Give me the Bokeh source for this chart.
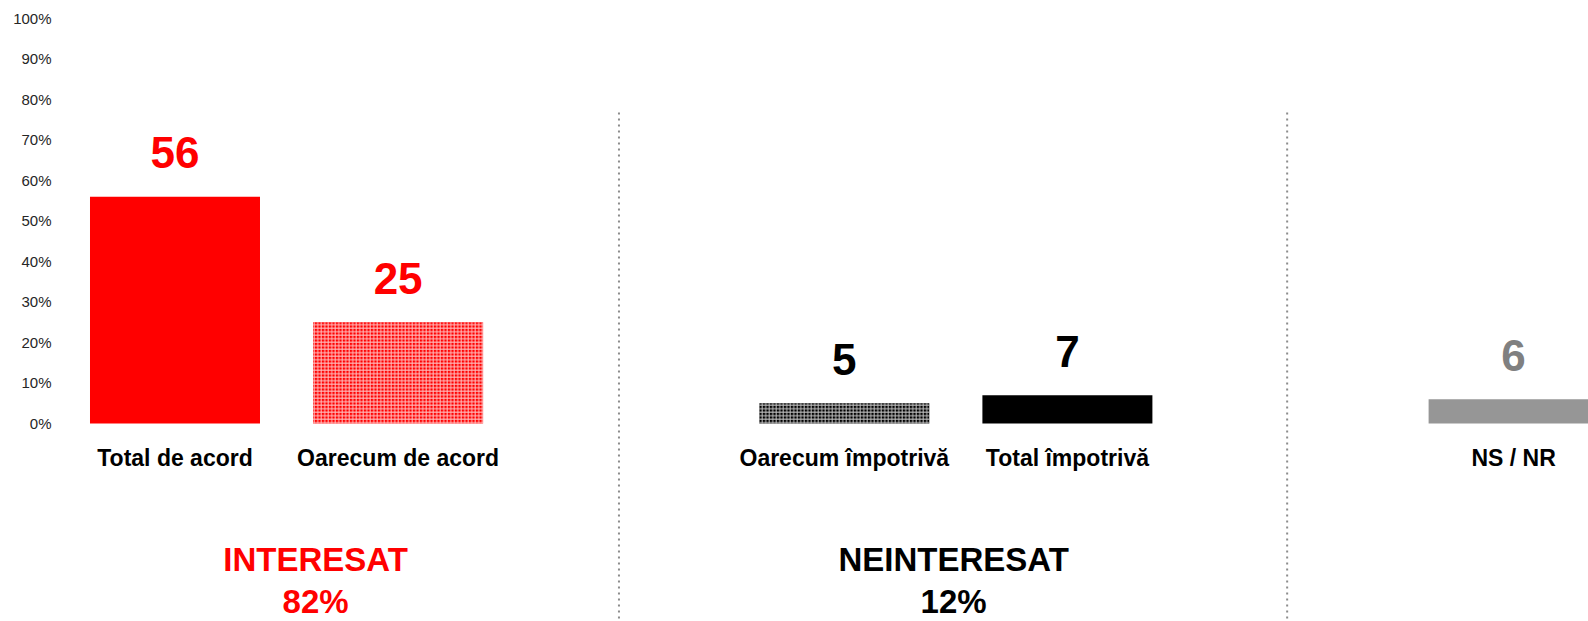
from bokeh.plotting import figure
from bokeh.models import ColumnDataSource, FixedTicker, Range1d
from bokeh.core.properties import value
from bokeh.embed import file_html
from bokeh.resources import INLINE

# ---- data ----
categories = ["Total de acord", "Oarecum de acord", "Oarecum împotrivă", "Total împotrivă", "NS / NR"]
values = [56, 25, 5, 7, 6]
bar_colors = ["#FF0000", "#FF0000", "#000000", "#000000", "#969696"]
label_colors = ["#FF0000", "#FF0000", "#000000", "#000000", "#808080"]
patterns = [" ", "+", "+", " ", " "]
groups = ["INTERESAT", "NEINTERESAT"]
group_totals = ["82%", "12%"]
group_colors = ["#FF0000", "#000000"]
y_ticks = [0, 10, 20, 30, 40, 50, 60, 70, 80, 90, 100]
y_tick_labels = ["0%", "10%", "20%", "30%", "40%", "50%", "60%", "70%", "80%", "90%", "100%"]

# ---- layout ----
slots = [0, 1, 3, 4, 6]
group_x = [0.63, 3.49]
divider_x = [1.99, 4.985]
FONT = value("Liberation Sans")
Y0, Y1 = -48.89, 104.44

p = figure(width=1588, height=621,
           x_range=Range1d(-0.5132, 6.3357), y_range=Range1d(Y0, Y1),
           output_backend="svg", toolbar_location=None, x_axis_location=None,
           min_border_left=60, min_border_right=0, min_border_top=0, min_border_bottom=0)
p.grid.visible = False
p.outline_line_color = None
p.background_fill_color = "white"
p.border_fill_color = "white"

ax = p.yaxis[0]
ax.ticker = FixedTicker(ticks=y_ticks)
ax.major_label_overrides = {t: l for t, l in zip(y_ticks, y_tick_labels)}
ax.axis_line_color = None
ax.major_tick_line_color = None
ax.minor_tick_line_color = None
ax.major_label_standoff = 3
ax.major_label_text_font = "Liberation Sans"
ax.major_label_text_font_size = "15px"
ax.major_label_text_color = "#262626"

src = ColumnDataSource(dict(x=slots, top=values, color=bar_colors, lcolor=label_colors,
                            pat=patterns, txt=[str(v) for v in values], cat=categories))

p.vbar(x="x", top="top", bottom=0, width=0.762, source=src, fill_color="color",
       line_color=None, hatch_pattern="pat", hatch_color="white", hatch_scale=3.5,
       hatch_weight=1, hatch_alpha=0.75)

p.text(x="x", y="top", text="txt", source=src, text_color="lcolor", text_font=FONT,
       text_font_style="bold", text_font_size="44px", text_align="center",
       text_baseline="middle", y_offset=-44)

p.text(x="x", y=-8.5, text="cat", source=src, text_color="#000000", text_font=FONT,
       text_font_style="bold", text_font_size="23px", text_align="center",
       text_baseline="middle")

p.segment(x0=divider_x, x1=divider_x, y0=[76.8, 76.8], y1=[Y0, Y0],
          line_color="#8c8c8c", line_width=2, line_dash="2 4")

p.text(x=group_x, y=[-33.6, -33.6], text=groups, text_color=group_colors, text_font=FONT,
       text_font_style="bold", text_font_size="33px", text_align="center",
       text_baseline="middle")
p.text(x=group_x, y=[-43.9, -43.9], text=group_totals, text_color=group_colors, text_font=FONT,
       text_font_style="bold", text_font_size="33px", text_align="center",
       text_baseline="middle")

open("out.html", "w").write(file_html(p, INLINE))
